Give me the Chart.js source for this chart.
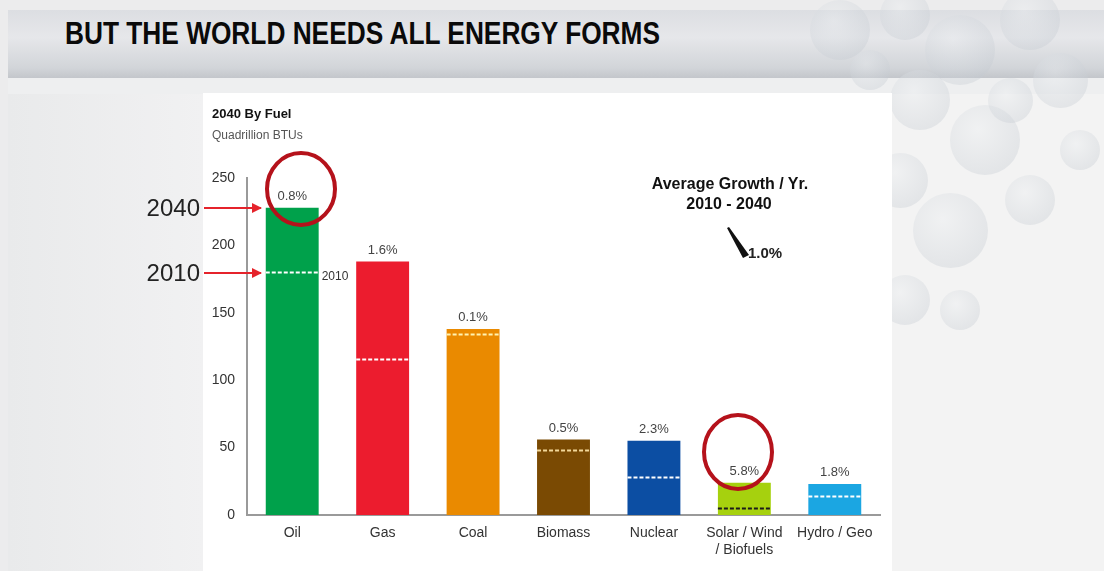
<!DOCTYPE html>
<html>
<head>
<meta charset="utf-8">
<script src="https://cdn.jsdelivr.net/npm/chart.js@4.4.1/dist/chart.umd.min.js"></script>
<style>
  html, body { margin: 0; padding: 0; }
  body {
    width: 1104px; height: 571px; position: relative; overflow: hidden;
    background: #ececed; font-family: "Liberation Sans", Arial, sans-serif;
  }
  .band {
    position: absolute; left: 8px; top: 10px; width: 1096px; height: 68px;
    background: linear-gradient(180deg, #dcdee2 0%, #e6e7ea 40%, #d2d5d9 85%, #c3c6cb 100%);
  }
  .strip {
    position: absolute; left: 8px; top: 78px; width: 1096px; height: 16px;
    background: #eeeff0;
  }
  .side {
    position: absolute; left: 8px; top: 94px; width: 196px; height: 477px;
    background: linear-gradient(90deg, #e9eaeb 0%, #f1f1f2 100%);
  }
  .right {
    position: absolute; left: 890px; top: 94px; width: 214px; height: 477px;
    background: #f3f3f3;
  }
  .bubble { position: absolute; border-radius: 50%; }
  .panel {
    position: absolute; left: 203px; top: 93px; width: 689px; height: 478px;
    background: #ffffff;
  }
  .title {
    position: absolute; left: 65px; top: 15px; white-space: nowrap;
    font-family: "Liberation Sans Narrow", "Liberation Sans", Arial, sans-serif;
    font-weight: bold; font-size: 32px; color: #0a0a0a;
    transform-origin: left top;
  }
  canvas { position: absolute; left: 0; top: 0; }
  svg { position: absolute; left: 0; top: 0; }
</style>
</head>
<body>
<div class="band"></div>
<div class="strip"></div>
<div class="side"></div>
<div class="right"></div>
<div id="bubbles"></div>
<div class="panel"></div>
<div class="title" id="title">BUT THE WORLD NEEDS ALL ENERGY FORMS</div>
<canvas id="fuelChart" width="1104" height="571"></canvas>
<svg width="1104" height="571" viewBox="0 0 1104 571">
  <defs>
    <marker id="head" markerWidth="10" markerHeight="10" refX="9" refY="5" orient="auto" markerUnits="userSpaceOnUse">
      <path d="M0,0 L10,5 L0,10 z" fill="#e5232b"/>
    </marker>
  </defs>
  <text x="200" y="216" text-anchor="end" font-family="Liberation Sans, Arial" font-size="24" fill="#222">2040</text>
  <line x1="204" y1="208" x2="261" y2="208" stroke="#e5232b" stroke-width="2" marker-end="url(#head)"/>
  <text x="200" y="281" text-anchor="end" font-family="Liberation Sans, Arial" font-size="24" fill="#222">2010</text>
  <line x1="204" y1="273" x2="261" y2="273" stroke="#e5232b" stroke-width="2" marker-end="url(#head)"/>
  <ellipse cx="301" cy="189" rx="34" ry="36" fill="none" stroke="#b5121b" stroke-width="4"/>
  <ellipse cx="738" cy="452" rx="34" ry="37" fill="none" stroke="#b5121b" stroke-width="4"/>
  <text x="212" y="118" font-family="Liberation Sans, Arial" font-weight="bold" font-size="13" fill="#111">2040 By Fuel</text>
  <text x="212" y="139" font-family="Liberation Sans, Arial" font-size="12" fill="#555">Quadrillion BTUs</text>
  <text x="730" y="189" text-anchor="middle" font-family="Liberation Sans, Arial" font-weight="bold" font-size="16" fill="#111">Average Growth / Yr.</text>
  <text x="729" y="209" text-anchor="middle" font-family="Liberation Sans, Arial" font-weight="bold" font-size="16" fill="#111">2010 - 2040</text>
  <polygon points="727,228 729,227 749,255 743,258" fill="#111"/>
  <text x="748" y="258" font-family="Liberation Sans, Arial" font-weight="bold" font-size="15" fill="#222">1.0%</text>
</svg>
<script>
// fuel categories and 2040 / 2010 demand, quadrillion BTUs
const fuels = ['Oil', 'Gas', 'Coal', 'Biomass', 'Nuclear', ['Solar / Wind', '/ Biofuels'], 'Hydro / Geo'];
const demand2040 = [228, 188, 138, 56, 55, 24, 23];
const demand2010 = [180, 116, 134, 48, 28, 5, 14];
const growthRates = ['0.8%', '1.6%', '0.1%', '0.5%', '2.3%', '5.8%', '1.8%'];
const yTicks = [0, 50, 100, 150, 200, 250];

const barColors = ['#00a14b', '#ec1c2e', '#ea8a00', '#7a4a03', '#0c4ea3', '#a6d10e', '#1ba6e2'];
const dashColors = ['#ffffff', '#ffffff', '#fff2b0', '#f3d89a', '#ffffff', '#1b1b1b', '#ffffff'];

// faint background bubbles on the right
(() => {
  const spots = [
    [840, 20, 60], [905, 5, 50], [960, 40, 70], [1030, 10, 60],
    [1060, 70, 55], [920, 90, 60], [985, 130, 70], [900, 170, 55],
    [950, 220, 75], [1030, 190, 50], [905, 290, 50], [960, 300, 40],
    [1010, 90, 45], [870, 60, 40], [1080, 140, 40]
  ];
  const host = document.getElementById('bubbles');
  spots.forEach(([x, y, r]) => {
    const d = document.createElement('div');
    d.className = 'bubble';
    d.style.left = (x - r / 2) + 'px';
    d.style.top = (y - r / 2 + 10) + 'px';
    d.style.width = r + 'px';
    d.style.height = r + 'px';
    d.style.background = 'radial-gradient(circle at 40% 35%, rgba(235,238,241,0.35) 0%, rgba(196,202,209,0.35) 75%, rgba(200,205,212,0) 100%)';
    host.appendChild(d);
  });
})();

// squeeze the headline to its width
(() => {
  const t = document.getElementById('title');
  const w = t.getBoundingClientRect().width;
  t.style.transform = `scaleX(${595 / w})`;
})();

const baselinePlugin = {
  id: 'baselines',
  afterDatasetsDraw(chart) {
    const { ctx } = chart;
    const meta = chart.getDatasetMeta(0);
    const y = chart.scales.y;
    ctx.save();
    meta.data.forEach((bar, i) => {
      const half = bar.width / 2;
      const py = Math.round(y.getPixelForValue(demand2010[i])) + 0.5;
      ctx.strokeStyle = dashColors[i];
      ctx.lineWidth = 2;
      ctx.setLineDash([4, 2]);
      ctx.beginPath();
      ctx.moveTo(bar.x - half, py);
      ctx.lineTo(bar.x + half, py);
      ctx.stroke();

      ctx.setLineDash([]);
      ctx.fillStyle = '#444';
      ctx.font = '13px "Liberation Sans", Arial, sans-serif';
      ctx.textAlign = 'center';
      ctx.textBaseline = 'bottom';
      ctx.fillText(growthRates[i], bar.x, bar.y - 5);

      if (i === 0) {
        ctx.fillStyle = '#333';
        ctx.font = '12px "Liberation Sans", Arial, sans-serif';
        ctx.textAlign = 'left';
        ctx.textBaseline = 'middle';
        ctx.fillText('2010', bar.x + half + 3, py + 4);
      }
    });
    ctx.restore();
  }
};

new Chart(document.getElementById('fuelChart').getContext('2d'), {
  type: 'bar',
  data: {
    labels: fuels,
    datasets: [{
      data: demand2040,
      backgroundColor: barColors,
      barPercentage: 0.585,
      categoryPercentage: 1
    }]
  },
  options: {
    responsive: false,
    animation: false,
    devicePixelRatio: 1,
    layout: { padding: { left: 200, right: 224, top: 178, bottom: 0 } },
    plugins: { legend: { display: false }, tooltip: { enabled: false } },
    scales: {
      x: {
        grid: { display: false, drawTicks: false },
        border: { display: true, color: '#9a9a9a', width: 2 },
        ticks: {
          color: '#333',
          font: { size: 14, family: '"Liberation Sans", Arial, sans-serif' },
          padding: 10,
          maxRotation: 0,
          autoSkip: false
        },
        afterFit: (scale) => { scale.height = 56; }
      },
      y: {
        min: 0,
        max: 250,
        grid: { display: false, drawTicks: false },
        border: { display: true, color: '#9a9a9a', width: 2 },
        afterBuildTicks: (scale) => { scale.ticks = yTicks.map((v) => ({ value: v })); },
        ticks: {
          color: '#333',
          font: { size: 14, family: '"Liberation Sans", Arial, sans-serif' },
          padding: 12
        },
        afterFit: (scale) => { scale.width = 47; }
      }
    }
  },
  plugins: [baselinePlugin]
});
</script>
</body>
</html>
